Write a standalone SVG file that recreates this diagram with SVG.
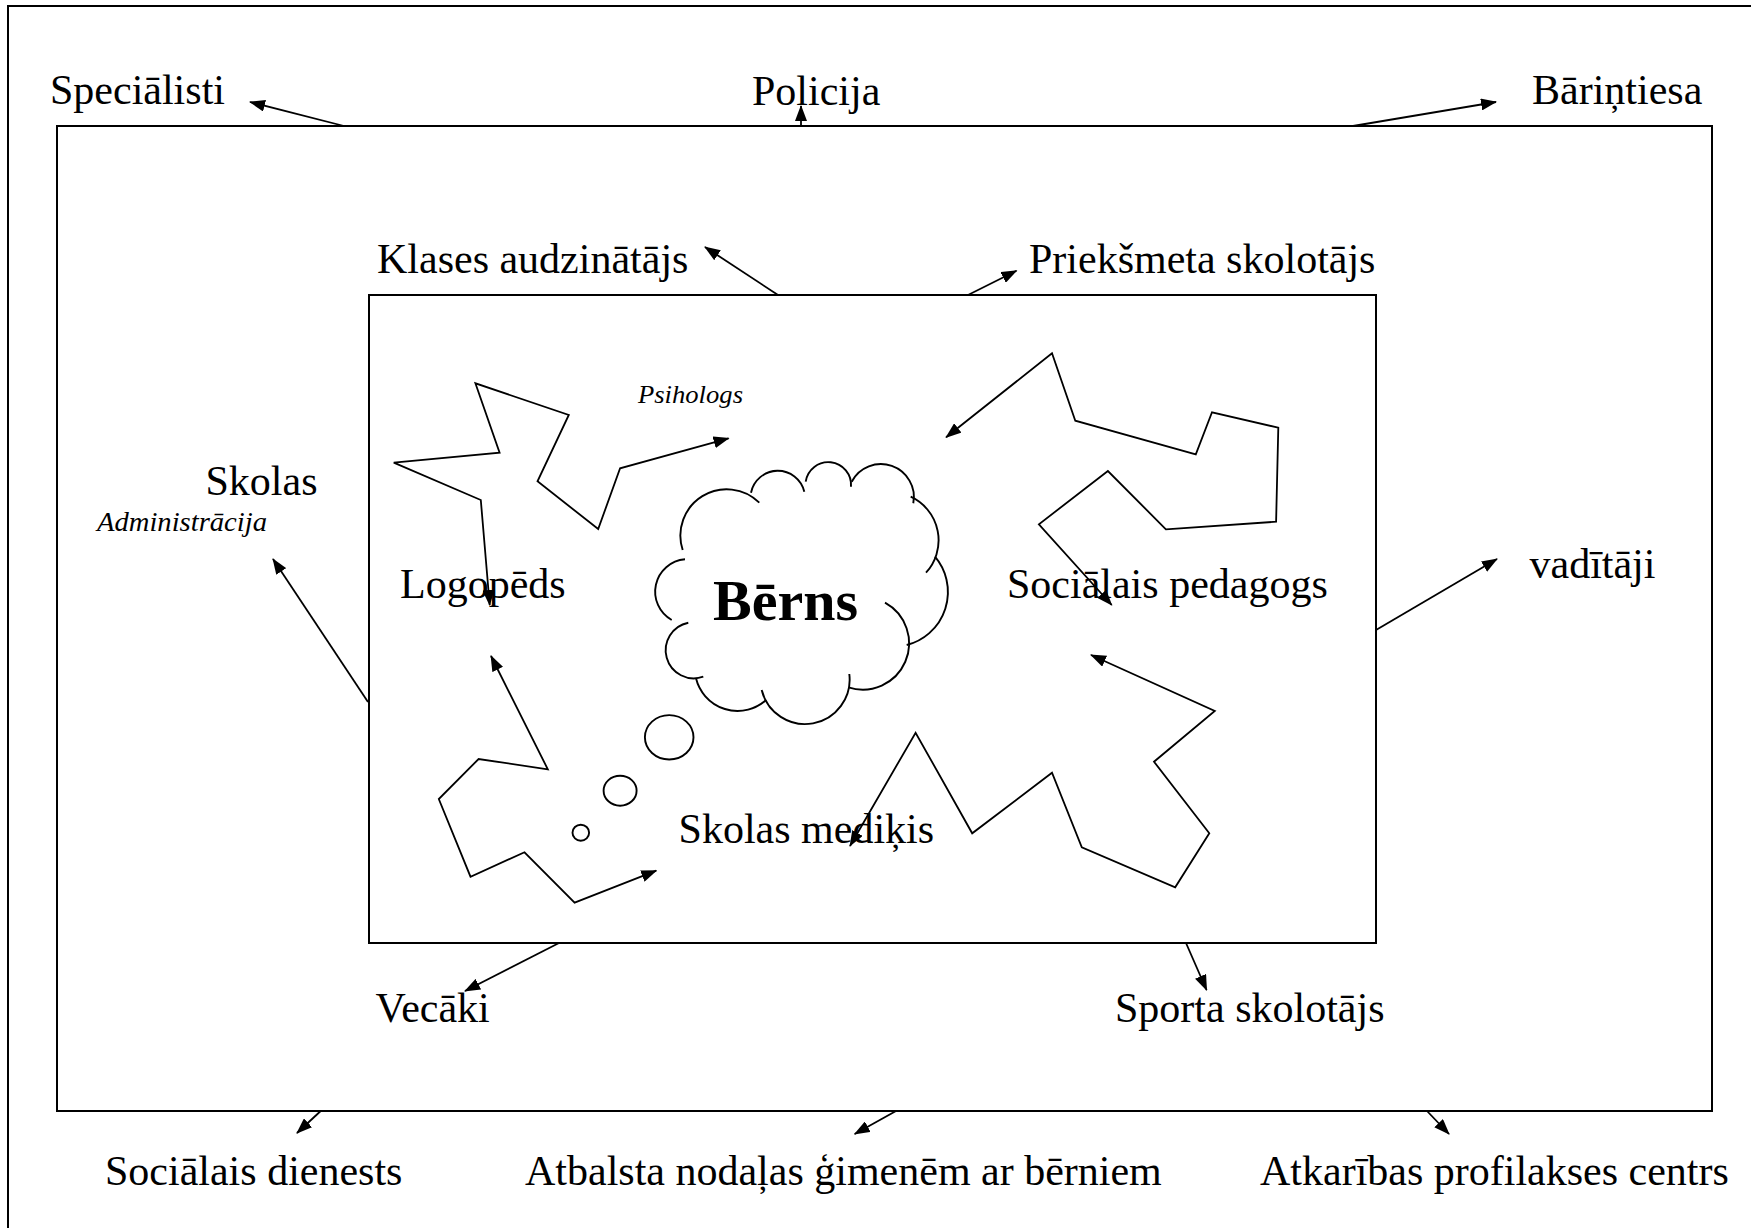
<svg xmlns="http://www.w3.org/2000/svg" width="1751" height="1228" viewBox="0 0 1751 1228">
<defs>
<style>
.t{font-family:"Liberation Serif","Times New Roman",serif;font-size:42px;fill:#000}
.it{font-family:"Liberation Serif","Times New Roman",serif;font-style:italic;fill:#000}
.b{font-family:"Liberation Serif","Times New Roman",serif;font-size:58px;font-weight:bold;fill:#000}
.box{fill:none;stroke:#000;stroke-width:2}
.ln{fill:none;stroke:#000;stroke-width:1.8;marker-end:url(#ah)}
.pl{fill:none;stroke:#000;stroke-width:1.8;marker-start:url(#ah);marker-end:url(#ah)}
.cl{fill:none;stroke:#000;stroke-width:1.9}
</style>
<marker id="ah" viewBox="0 0 16 12" markerWidth="16" markerHeight="12" refX="15" refY="6" orient="auto-start-reverse" markerUnits="userSpaceOnUse">
<path d="M0,0 L16,6 L0,12 Z" fill="#000"/>
</marker>
</defs>
<rect x="0" y="0" width="1751" height="1228" fill="#fff"/>
<g id="frame"><rect class="box" x="8" y="6" width="1800" height="1300"/></g>
<g id="outer-box"><rect class="box" x="57" y="126" width="1655" height="985"/></g>
<g id="inner-box"><rect class="box" x="369" y="295" width="1007" height="648"/></g>

<g id="connectors">
<line class="ln" x1="344" y1="126" x2="250" y2="102"/>
<line class="ln" x1="801" y1="126" x2="801" y2="106"/>
<line class="ln" x1="1353" y1="126" x2="1496" y2="102"/>
<line class="ln" x1="778" y1="295" x2="705" y2="247"/>
<line class="ln" x1="968" y1="295" x2="1016.5" y2="270.7"/>
<line class="ln" x1="368" y1="702" x2="273" y2="559"/>
<line class="ln" x1="1376" y1="630" x2="1497" y2="559"/>
<line class="ln" x1="559" y1="943" x2="465" y2="991"/>
<line class="ln" x1="1186" y1="943" x2="1206.6" y2="990"/>
<line class="ln" x1="320.7" y1="1111" x2="297" y2="1133"/>
<line class="ln" x1="896" y1="1111" x2="854.7" y2="1134"/>
<line class="ln" x1="1427" y1="1111" x2="1449" y2="1134"/>
<polyline class="pl" points="728.6,438.3 620.1,468.3 598.2,529 537.5,481.3 568.8,415 475.4,383.3 499.6,452.7 393.75,462.7 480.8,500 489.7,605"/>
<polyline class="pl" points="946.1,437.3 1052,353.3 1075.3,420.7 1195.8,454.3 1212,412.3 1278.3,427.7 1276.1,521.7 1165.9,529.3 1107.9,471 1038.9,524.3 1111.7,605"/>
<polyline class="pl" points="1091,655 1214.8,711 1154,761.7 1209.3,833.3 1175.2,887.3 1081.8,847.3 1052,772.7 972.2,833.3 915.6,732.7 850,846"/>
<polyline class="pl" points="491,656 547.8,769.3 478.6,759 438.8,799 470.5,876.7 524.5,852.3 574.6,902.7 656.3,870.7"/>
</g>

<g id="node-berns">
<path class="cl" d="M682.7,550 A46.3,46.3 0 0 1 759.3,502.7"/>
<path class="cl" d="M751,492.7 A27.3,27.3 0 0 1 804.3,491.7"/>
<path class="cl" d="M805.7,481.7 A22.8,22.8 0 0 1 851,486.7"/>
<path class="cl" d="M851.7,481.7 A33,33 0 0 1 913.3,503.3"/>
<path class="cl" d="M910.7,496.7 A48,48 0 0 1 926,572.7"/>
<path class="cl" d="M935,556.7 A54.7,54.7 0 0 1 906.7,645"/>
<path class="cl" d="M885,602.7 A46.3,46.3 0 0 1 848.3,687.3"/>
<path class="cl" d="M849.3,674 A44.6,44.6 0 0 1 761.7,690"/>
<path class="cl" d="M766,700 A42.7,42.7 0 0 1 696,678.3"/>
<path class="cl" d="M703.3,676.7 A28.1,28.1 0 1 1 688.3,622.7"/>
<path class="cl" d="M671.7,620 A32.5,32.5 0 0 1 685,559.3"/>
<ellipse class="cl" cx="669.2" cy="737.3" rx="24.3" ry="22.2"/>
<ellipse class="cl" cx="620.1" cy="790.7" rx="16.5" ry="15"/>
<ellipse class="cl" cx="580.8" cy="832.7" rx="8.3" ry="8"/>
<text class="b" x="713" y="620">Bērns</text>
</g>

<g id="node-specialisti"><text class="t" x="50" y="104">Speciālisti</text></g>
<g id="node-policija"><text class="t" x="752" y="104.5">Policija</text></g>
<g id="node-barintiesa"><text class="t" x="1532" y="104">Bāriņtiesa</text></g>
<g id="node-klases"><text class="t" x="377" y="273">Klases audzinātājs</text></g>
<g id="node-prieksmeta"><text class="t" x="1029" y="273">Priekšmeta skolotājs</text></g>
<g id="node-skolas-admin"><text class="t" x="205.5" y="495">Skolas</text><text class="it" x="97" y="531" font-size="28" textLength="170" lengthAdjust="spacingAndGlyphs">Administrācija</text></g>
<g id="node-psihologs"><text class="it" x="638" y="403" font-size="26" textLength="105" lengthAdjust="spacingAndGlyphs">Psihologs</text></g>
<g id="node-logopeds"><text class="t" x="400" y="598">Logopēds</text></g>
<g id="node-soc-pedagogs"><text class="t" x="1007" y="598">Sociālais pedagogs</text></g>
<g id="node-vaditaji"><text class="t" x="1529.5" y="578">vadītāji</text></g>
<g id="node-medikis"><text class="t" x="678.6" y="843">Skolas mediķis</text></g>
<g id="node-vecaki"><text class="t" x="375.5" y="1022">Vecāki</text></g>
<g id="node-sporta"><text class="t" x="1115" y="1022">Sporta skolotājs</text></g>
<g id="node-soc-dienests"><text class="t" x="105" y="1185">Sociālais dienests</text></g>
<g id="node-atbalsta"><text class="t" x="525" y="1185">Atbalsta nodaļas ģimenēm ar bērniem</text></g>
<g id="node-atkaribas"><text class="t" x="1260" y="1185">Atkarības profilakses centrs</text></g>
</svg>
